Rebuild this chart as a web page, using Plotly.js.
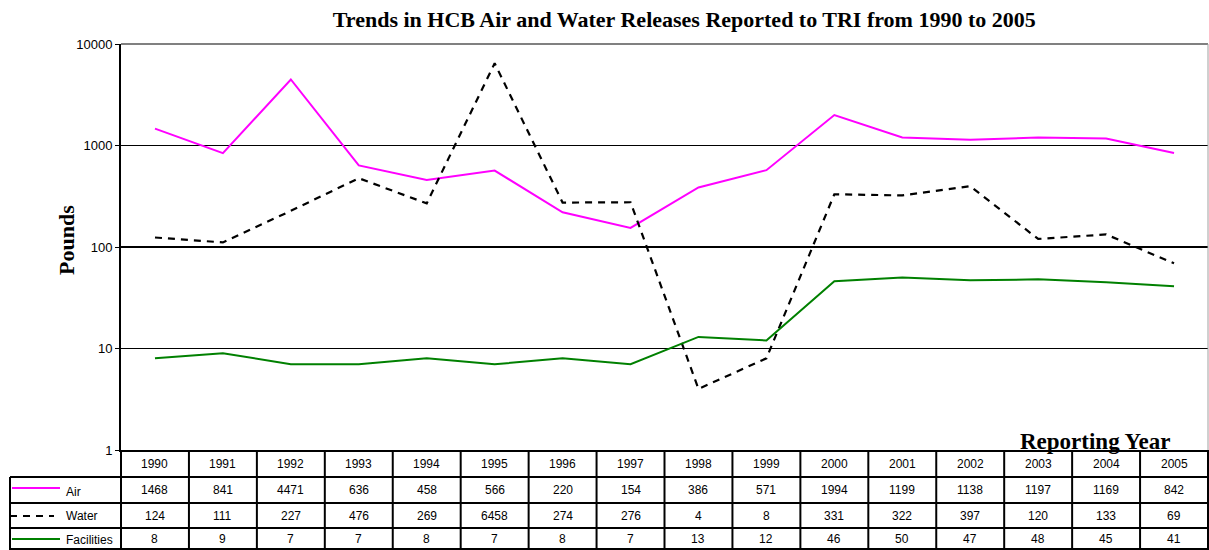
<!DOCTYPE html>
<html>
<head>
<meta charset="utf-8">
<script src="https://cdn.plot.ly/plotly-3.0.1.min.js"></script>
<style>html,body{margin:0;padding:0;background:#fff;}#chart{width:1209px;height:550px;}</style>
</head>
<body>
<div id="chart"></div>
<script>
var years = [1990,1991,1992,1993,1994,1995,1996,1997,1998,1999,2000,2001,2002,2003,2004,2005];
var air = [1468,841,4471,636,458,566,220,154,386,571,1994,1199,1138,1197,1169,842];
var water = [124,111,227,476,269,6458,274,276,4,8,331,322,397,120,133,69];
var facilities = [8,9,7,7,8,7,8,7,13,12,46,50,47,48,45,41];
var seriesNames = ["Air","Water","Facilities"];
var yTicks = [1,10,100,1000,10000];

var L = 121, W = 1087, T = 44, H = 406;
function px(x){ return (x - L) / W; }
function py(y){ return (T + H - y) / H; }

var traces = [
  {x: years, y: air, name: seriesNames[0], mode: 'lines', line: {color: '#FF00FF', width: 2}},
  {x: years, y: water, name: seriesNames[1], mode: 'lines', line: {color: '#000000', width: 2.2, dash: '7px,6px'}},
  {x: years, y: facilities, name: seriesNames[2], mode: 'lines', line: {color: '#008000', width: 2}}
];

var shapes = [];
var ann = [];
var tf = {family: 'Liberation Sans, Arial, sans-serif', size: 12, color: '#000'};
var serif = 'Liberation Serif, Times New Roman, serif';
// top gray border and right border
shapes.push({type:'line', xref:'paper', yref:'paper', x0:0, x1:1, y0:1, y1:1, line:{color:'#808080', width:2}});
shapes.push({type:'line', xref:'paper', yref:'paper', x0:1, x1:1, y0:0, y1:1, line:{color:'#a0a0a0', width:1}});
// table grid
var rowLines = [477, 503, 528, 549];
rowLines.forEach(function(r){
  shapes.push({type:'line', xref:'paper', yref:'paper', x0:px(10), x1:1, y0:py(r), y1:py(r), line:{color:'#000', width: 2}});
});
shapes.push({type:'line', xref:'paper', yref:'paper', x0:px(10), x1:px(10), y0:py(477), y1:py(550), line:{color:'#000', width:2}});
shapes.push({type:'line', xref:'paper', yref:'paper', x0:0, x1:0, y0:0, y1:py(550), line:{color:'#000', width:2}});
shapes.push({type:'line', xref:'paper', yref:'paper', x0:1, x1:1, y0:0, y1:py(550), line:{color:'#000', width:2}});
for (var i = 1; i < years.length; i++) {
  shapes.push({type:'line', xref:'x', yref:'paper', x0:years[i]-0.5, x1:years[i]-0.5, y0:0, y1:py(550), line:{color:'#000', width:2}});
}
var rowY = [py(463.5), py(490), py(515.5), py(539)];
var rows = [air, water, facilities];
years.forEach(function(yr, i){
  ann.push({xref:'x', yref:'paper', x:yr, y:rowY[0], xanchor:'center', yanchor:'middle', text:String(yr), showarrow:false, font:tf});
  rows.forEach(function(arr, k){
    ann.push({xref:'x', yref:'paper', x:yr, y:rowY[k+1], xanchor:'center', yanchor:'middle', text:String(arr[i]), showarrow:false, font:tf});
  });
});
// legend keys in table
var keyColors = ['#FF00FF','#000000','#008000'];
var keyDash = ['solid','7px,6px','solid'];
var keyY = [488, 516, 539];
var keyX0 = [12, 10, 12];
var keyX1 = [60, 54, 60];
var labelY = [492, 516, 540];
seriesNames.forEach(function(n, k){
  shapes.push({type:'line', xref:'paper', yref:'paper', x0:px(keyX0[k]), x1:px(keyX1[k]), y0:py(keyY[k]), y1:py(keyY[k]), line:{color:keyColors[k], width:2.2, dash:keyDash[k]}});
  ann.push({xref:'paper', yref:'paper', x:px(64), y:py(labelY[k]), xanchor:'left', yanchor:'middle', text:n, showarrow:false, font:tf});
});
ann.push({xref:'paper', yref:'paper', x:px(1095), y:py(441), xanchor:'center', yanchor:'middle', text:'<b>Reporting Year</b>', showarrow:false,
  font:{family:serif, size:23, color:'#000'}});
ann.push({xref:'paper', yref:'paper', x:px(66), y:py(240), xanchor:'center', yanchor:'middle', textangle:-90, text:'<b>Pounds</b>', showarrow:false,
  font:{family:serif, size:22, color:'#000'}});

var layout = {
  width: 1209, height: 550,
  margin: {l: L, r: 1209 - L - W, t: T, b: 550 - T - H},
  paper_bgcolor: '#fff', plot_bgcolor: '#fff',
  showlegend: false,
  title: {text: '<b>Trends in HCB Air and Water Releases Reported to TRI from 1990 to 2005</b>',
    x: 0.566, xanchor: 'center', y: 0.965, yanchor: 'middle',
    font: {family: serif, size: 22, color: '#000'}},
  xaxis: {range: [1989.5, 2005.5], showticklabels: false, showgrid: false, zeroline: false,
    showline: true, linecolor: '#000', linewidth: 2, ticks: ''},
  yaxis: {type: 'log', range: [0, 4], tickvals: yTicks, ticktext: yTicks.map(String),
    showgrid: true, gridcolor: '#000', gridwidth: 1.5, zeroline: false,
    showline: true, linecolor: '#000', linewidth: 2, ticks: 'outside', ticklen: 4, tickcolor: '#000',
    tickfont: {family: 'Liberation Sans, Arial, sans-serif', size: 13, color: '#000'}},
  shapes: shapes,
  annotations: ann
};
Plotly.newPlot('chart', traces, layout, {displayModeBar: false, staticPlot: true});
</script>
</body>
</html>
